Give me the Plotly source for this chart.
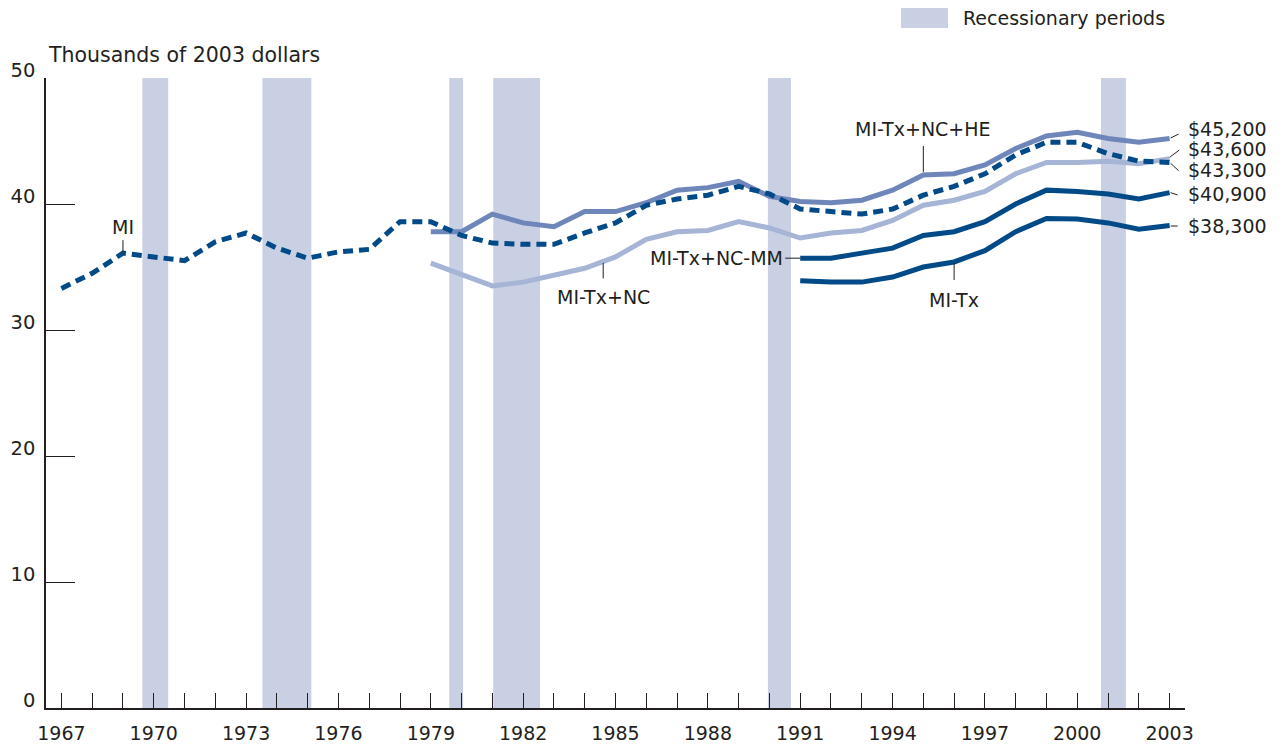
import plotly.graph_objects as go
import numpy as np

# ---- data ----
years_mi = list(range(1967, 2004))
mi = [33.3, 34.5, 36.1, 35.8, 35.5, 37.0, 37.7, 36.5, 35.7, 36.2, 36.4, 38.6, 38.6,
      37.5, 36.9, 36.8, 36.8, 37.7, 38.5, 39.9, 40.4, 40.7, 41.4, 40.8, 39.6,
      39.4, 39.2, 39.6, 40.7, 41.4, 42.4, 43.9, 44.9, 44.9, 44.0, 43.4, 43.3]

years_79 = list(range(1979, 2004))
mi_tx_nc_he = [37.8, 37.8, 39.2, 38.5, 38.2, 39.4, 39.4, 40.1, 41.1, 41.3, 41.8, 40.6, 40.2,
               40.1, 40.3, 41.1, 42.3, 42.4, 43.1, 44.4, 45.4, 45.7, 45.2, 44.9, 45.2]
mi_tx_nc = [35.3, 34.4, 33.5, 33.8, 34.3, 34.9, 35.8, 37.2, 37.8, 37.9, 38.6, 38.1, 37.3,
            37.7, 37.9, 38.7, 39.9, 40.3, 41.0, 42.4, 43.3, 43.3, 43.4, 43.2, 43.6]

years_91 = list(range(1991, 2004))
mi_tx_nc_mm = [35.7, 35.7, 36.1, 36.5, 37.5, 37.8, 38.6, 40.0, 41.1, 41.0, 40.8, 40.4, 40.9]
mi_tx = [33.9, 33.8, 33.8, 34.2, 35.0, 35.4, 36.3, 37.8, 38.85, 38.8, 38.5, 38.0, 38.3]

recessions = [(1969.63, 1970.47), (1973.53, 1975.12), (1979.6, 1980.05),
              (1981.03, 1982.55), (1989.95, 1990.7), (2000.77, 2001.58)]

end_labels = ["$45,200", "$43,600", "$43,300", "$40,900", "$38,300"]
x_tick_years = list(range(1967, 2004))
x_tick_text = [str(y) if (y - 1967) % 3 == 0 else "" for y in x_tick_years]
y_ticks = [0, 10, 20, 30, 40, 50]

# ---- styles ----
DARK = "#004a88"
MED = "#6f86ba"
LIGHT = "#a6b4d6"
SHADE = "#c9d0e4"
TXT = "#231f20"
FONT = "DejaVu Sans"

fig = go.Figure()

fig.add_trace(go.Scatter(x=years_79, y=mi_tx_nc, mode="lines",
                         line=dict(color=LIGHT, width=5), hoverinfo="skip"))
fig.add_trace(go.Scatter(x=years_79, y=mi_tx_nc_he, mode="lines",
                         line=dict(color=MED, width=5), hoverinfo="skip"))
fig.add_trace(go.Scatter(x=years_91, y=mi_tx_nc_mm, mode="lines",
                         line=dict(color=DARK, width=5), hoverinfo="skip"))
fig.add_trace(go.Scatter(x=years_91, y=mi_tx, mode="lines",
                         line=dict(color=DARK, width=5), hoverinfo="skip"))
fig.add_trace(go.Scatter(x=years_mi, y=mi, mode="lines",
                         line=dict(color=DARK, width=5, dash="10px,6px"), hoverinfo="skip"))

shapes = []
for a, b in recessions:
    shapes.append(dict(type="rect", xref="x", yref="y", x0=a, x1=b, y0=0, y1=50,
                       fillcolor=SHADE, line=dict(width=0), layer="below"))

# legend swatch
shapes.append(dict(type="rect", xref="paper", yref="paper", x0=0.7507, x1=0.7919,
                   y0=1.0794, y1=1.1127, fillcolor=SHADE, line=dict(width=0)))

# connector lines at the right end (pixel offsets from the last data point)
end_vals = [mi_tx_nc_he[-1], mi_tx_nc[-1], mi[-1], mi_tx_nc_mm[-1], mi_tx[-1]]
conn = [(1, 9, 0.5, 4.4), (0, 9.7, 1.3, 8.6), (1, 9, -0.9, -8.3), (1, 8, 0, -2.3), (1, 8, -0.6, -0.6)]
label_dy = [9.2, 9.3, -7.6, -1.6, -0.6]
for v, (x0, x1, y0, y1) in zip(end_vals, conn):
    shapes.append(dict(type="line", xref="x", yref="y", xsizemode="pixel", ysizemode="pixel",
                       xanchor=2003, yanchor=v, x0=x0, x1=x1, y0=y0, y1=y1,
                       line=dict(color=TXT, width=1)))

annotations = []
for v, t, dy in zip(end_vals, end_labels, label_dy):
    annotations.append(dict(x=2003, y=v, xref="x", yref="y", text=t, showarrow=False,
                            xanchor="left", yanchor="middle", xshift=17, yshift=dy, borderpad=0,
                            font=dict(family=FONT, size=19, color=TXT)))

lab_font = dict(family=FONT, size=19, color=TXT)
arrow = dict(showarrow=True, arrowhead=0, arrowwidth=1, arrowcolor=TXT)

# MI
annotations.append(dict(x=1969, y=mi[2], xref="x", yref="y", text="MI", ax=0, ay=-13,
                        yanchor="bottom", standoff=1, font=lab_font, **arrow))
# MI-Tx+NC
xa = 1984.6
annotations.append(dict(x=xa, y=float(np.interp(xa, years_79, mi_tx_nc)), xref="x", yref="y",
                        text="MI-Tx+NC", ax=0, ay=23, yanchor="top", standoff=1.5,
                        startstandoff=6, font=lab_font, **arrow))
# MI-Tx+NC+HE
annotations.append(dict(x=1995, y=mi_tx_nc_he[years_79.index(1995)], xref="x", yref="y",
                        text="MI-Tx+NC+HE", ax=0, ay=-33, yanchor="bottom", standoff=3,
                        startstandoff=4, font=lab_font, **arrow))
# MI-Tx
annotations.append(dict(x=1996, y=mi_tx[years_91.index(1996)], xref="x", yref="y",
                        text="MI-Tx", ax=0, ay=25, yanchor="top", standoff=1,
                        startstandoff=7, font=lab_font, **arrow))
# MI-Tx+NC-MM
annotations.append(dict(x=1991, y=mi_tx_nc_mm[0], xref="x", yref="y",
                        text="MI-Tx+NC-MM", ax=-15, ay=0, xanchor="right", standoff=0,
                        font=lab_font, **arrow))

# axis title and legend text
annotations.append(dict(x=0, y=1.0365, xref="paper", yref="paper", text="Thousands of 2003 dollars",
                        showarrow=False, xanchor="left", yanchor="middle",
                        font=dict(family=FONT, size=20.5, color=TXT)))
annotations.append(dict(x=0.8042, y=1.0945, xref="paper", yref="paper", text="Recessionary periods",
                        showarrow=False, xanchor="left", yanchor="middle", borderpad=0,
                        font=lab_font))

# the page body adds an 8px offset; size/margins compensate so the plot area lands where it should
fig.update_layout(
    width=1272, height=736,
    margin=dict(l=38, r=95, t=70, b=36),
    plot_bgcolor="white", paper_bgcolor="white",
    showlegend=False,
    shapes=shapes, annotations=annotations,
    font=dict(family=FONT, color=TXT),
)
fig.update_xaxes(range=[1966.5, 2003.5], tickvals=x_tick_years, ticktext=x_tick_text,
                 automargin=False,
                 showgrid=False, zeroline=False, showline=True, linecolor=TXT, linewidth=1.5,
                 ticks="inside", ticklen=15, tickwidth=1, tickcolor=TXT,
                 tickfont=dict(family=FONT, size=19, color=TXT), ticklabelstandoff=7)
fig.update_yaxes(range=[0, 50], tickvals=y_ticks, automargin=False,
                 showgrid=False, zeroline=False, showline=True, linecolor=TXT, linewidth=1.5,
                 ticks="inside", ticklen=29, tickwidth=1.2, tickcolor=TXT,
                 tickfont=dict(family=FONT, size=19.5, color=TXT), ticklabelshift=-8,
                 ticklabelstandoff=5)

fig.write_html("out.html")
